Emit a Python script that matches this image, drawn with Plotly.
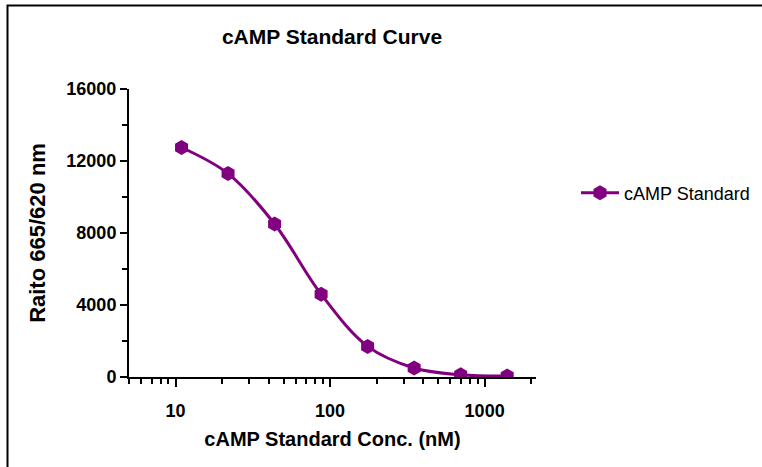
import math
import plotly.graph_objects as go

conc_nM = [10.9375, 21.875, 43.75, 87.5, 175, 350, 700, 1400]
ratio = [12750, 11300, 8500, 4600, 1700, 500, 120, 50]
series_name = "cAMP Standard"
y_ticks = [0, 4000, 8000, 12000, 16000]

PURPLE = "#800080"
W, H = 762, 467
L, R, T, B = 129, 226, 89, 90
pw, ph = W - L - R, H - T - B

def px_x(x):
    return (x - L) / pw

def px_y(y):
    return (H - B - y) / ph

fig = go.Figure()
fig.add_trace(go.Scatter(
    x=conc_nM, y=ratio, name=series_name, mode="lines+markers",
    line=dict(color=PURPLE, width=3, shape="spline", smoothing=1.0),
    marker=dict(symbol="hexagon", size=15, color=PURPLE),
))

fig.update_layout(
    width=W, height=H,
    margin=dict(l=L, r=R, t=T, b=B, autoexpand=False),
    paper_bgcolor="white", plot_bgcolor="white",
    font=dict(family="Liberation Sans, Arial, sans-serif", color="black"),
    title=dict(text="<b>cAMP Standard Curve</b>", x=px_x(332), xref="paper",
               xanchor="center", y=1 - 37 / H, yref="container", yanchor="middle",
               font=dict(size=21, color="black")),
    showlegend=True,
    legend=dict(x=px_x(576), y=px_y(193), xanchor="left", yanchor="middle",
                itemwidth=38,
                font=dict(size=18, color="black"), bgcolor="rgba(0,0,0,0)"),
    xaxis=dict(
        type="log", range=[math.log10(5), math.log10(2150)],
        dtick=1, tick0=0, showgrid=False, zeroline=False,
        showline=True, linecolor="black", linewidth=2,
        ticks="outside", ticklen=8, tickwidth=2, tickcolor="black",
        ticklabelstandoff=8,
        tickfont=dict(size=18, color="black", weight="bold"),
        minor=dict(ticks="outside", ticklen=5, tickwidth=2, tickcolor="black", showgrid=False),
        title=dict(text="<b>cAMP Standard Conc. (nM)</b>", font=dict(size=20, color="black"), standoff=12),
    ),
    yaxis=dict(
        range=[0, 16000], tickvals=y_ticks, ticktext=[str(v) for v in y_ticks],
        showgrid=False, zeroline=False,
        showline=True, linecolor="black", linewidth=2,
        ticks="outside", ticklen=7, tickwidth=2, tickcolor="black",
        tickfont=dict(size=18, color="black", weight="bold"),
        minor=dict(ticks="outside", ticklen=5, tickwidth=2, tickcolor="black", dtick=2000, showgrid=False),
        title=dict(text="<b>Raito 665/620 nm</b>", font=dict(size=22, color="black"), standoff=15),
    ),
)

# figure frame (top and left edges)
fig.add_shape(type="path", xref="paper", yref="paper",
              path=f"M {px_x(7.5)} {px_y(H + 5)} L {px_x(7.5)} {px_y(5.5)} L {px_x(W + 5)} {px_y(5.5)}",
              line=dict(color="black", width=2))

fig.write_html("out.html", config={"displayModeBar": False},
               post_script="document.body.style.margin='0px';")
